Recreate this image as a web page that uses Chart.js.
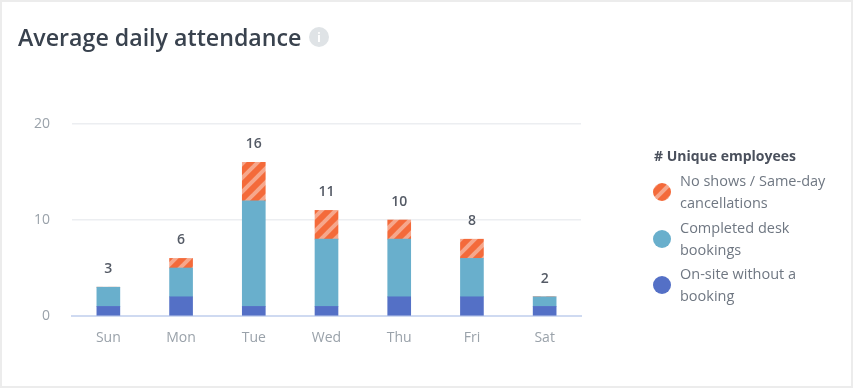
<!DOCTYPE html>
<html>
<head>
<meta charset="utf-8">
<script src="https://cdn.jsdelivr.net/npm/chart.js@4"></script>
<style>
html,body{margin:0;padding:0;width:853px;height:388px;overflow:hidden;background:#ececec;font-family:"Open Sans",sans-serif}
#card{position:absolute;left:2px;top:2px;width:849px;height:384px;background:#fff}
#wrap{position:absolute;left:0;top:0;width:853px;height:388px;filter:blur(0.35px)}
#title{position:absolute;left:18px;top:20px;font-size:23.2px;line-height:34px;font-weight:600;color:#39424e;white-space:nowrap;filter:blur(0.3px)}
#info{position:absolute;left:309px;top:27px;width:20px;height:20px;border-radius:50%;background:#dfe3e6;color:#fff;font:700 13px/20px "Open Sans",sans-serif;text-align:center}
</style>
</head>
<body>
<div id="card"></div>
<div id="wrap"><canvas id="c" width="853" height="388"></canvas></div>
<div id="title">Average daily attendance</div>
<div id="info">i</div>
<script>
const days = ["Sun","Mon","Tue","Wed","Thu","Fri","Sat"];
const onSite = [1,2,1,1,2,2,1];
const completed = [2,3,11,7,6,4,1];
const noShows = [0,1,4,3,2,2,0];
const totals = [3,6,16,11,10,8,2];
const yTicks = [0,10,20];
const legendTitle = "# Unique employees";
const legendNoShows = ["No shows / Same-day","cancellations"];
const legendCompleted = ["Completed desk","bookings"];
const legendOnSite = ["On-site without a","booking"];

const ORANGE="#f46a3a", STRIPE="#f6a78c", TEAL="#69afcc", BLUE="#5470c6";

function makePattern(){
  const n=14;
  const t=document.createElement("canvas");t.width=n;t.height=n;
  const g=t.getContext("2d");
  g.fillStyle=ORANGE;g.fillRect(0,0,n,n);
  g.strokeStyle=STRIPE;g.lineWidth=4;
  [[-n,n,n,-n],[0,n,n,0],[0,2*n,2*n,0]].forEach(s=>{g.beginPath();g.moveTo(s[0],s[1]);g.lineTo(s[2],s[3]);g.stroke();});
  return g.createPattern(t,"repeat");
}
const stripes=makePattern();

const totalsPlugin={
  id:"totals",
  afterDatasetsDraw(chart){
    const {ctx,scales:{x,y}}=chart;
    ctx.save();
    ctx.font='600 14px "Open Sans",sans-serif';
    ctx.fillStyle="#555b66";
    ctx.textAlign="center";ctx.textBaseline="middle";
    totals.forEach((v,i)=>ctx.fillText(String(v),x.getPixelForValue(i),y.getPixelForValue(v)-18));
    ctx.restore();
  }
};
const legendPlugin={
  id:"sideLegend",
  afterDraw(chart){
    const ctx=chart.ctx;
    ctx.save();
    ctx.textBaseline="middle";ctx.textAlign="left";
    ctx.font='700 14px "Open Sans",sans-serif';
    ctx.fillStyle="#4a505c";
    ctx.fillText(legendTitle,654,157);
    const items=[[legendNoShows,stripes,192,182],[legendCompleted,TEAL,239,229],[legendOnSite,BLUE,285,275]];
    ctx.font='14.5px "Open Sans",sans-serif';
    items.forEach(([lines,fill,cy,ty])=>{
      ctx.beginPath();ctx.arc(662,cy,9,0,Math.PI*2);ctx.fillStyle=fill;ctx.fill();
      ctx.fillStyle="#6f7782";
      lines.forEach((l,i)=>ctx.fillText(l,680,ty+i*22));
    });
    ctx.restore();
  }
};

new Chart(document.getElementById("c"),{
  type:"bar",
  data:{labels:days,datasets:[
    {label:"On-site without a booking",data:onSite,backgroundColor:BLUE},
    {label:"Completed desk bookings",data:completed,backgroundColor:TEAL},
    {label:"No shows / Same-day cancellations",data:noShows,backgroundColor:stripes}
  ]},
  options:{
    responsive:false,animation:false,
    layout:{padding:{top:124,right:272,left:0,bottom:0}},
    plugins:{legend:{display:false},title:{display:false},tooltip:{enabled:false}},
    datasets:{bar:{barThickness:23}},
    scales:{
      x:{stacked:true,
        grid:{display:false},
        border:{color:"#cfdaf1",width:2},
        ticks:{color:"#9aa2aa",font:{family:"Open Sans",size:14},padding:6},
        afterFit(s){s.height=72;}
      },
      y:{stacked:true,min:0,max:20,
        border:{display:false},
        grid:{color:"#eceef1",lineWidth:1.5,drawTicks:false},
        afterBuildTicks(s){s.ticks=yTicks.map(v=>({value:v}));},
        ticks:{color:"#9aa2aa",font:{family:"Open Sans",size:14},padding:22},
        afterFit(s){s.width=72;}
      }
    }
  },
  plugins:[totalsPlugin,legendPlugin]
});
</script>
</body>
</html>
